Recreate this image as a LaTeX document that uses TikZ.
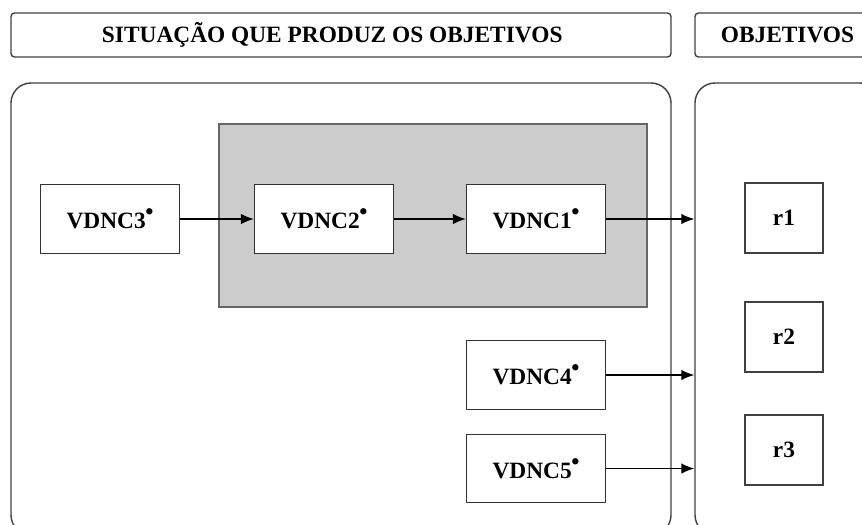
\documentclass[tikz,border=0pt]{standalone}
\usepackage{fontspec}
\setmainfont{Liberation Serif}
\usetikzlibrary{arrows.meta,positioning}

\newcommand{\vdnc}[1]{VDNC#1\kern-0.02em\raisebox{0.85ex}{\textbullet}}

\begin{document}
\begin{tikzpicture}[
  x=0.2mm,
  y=-0.2mm,
  font=\fontsize{13.3}{16}\selectfont\bfseries,
  >=Latex,
  header/.style={
    draw=black!75,
    line width=0.8pt,
    rounded corners=2pt,
    minimum height=0.88cm,
    inner sep=0pt
  },
  panel/.style={
    draw=black!75,
    line width=0.8pt,
    rounded corners=0.4cm,
    minimum height=9.04cm,
    inner sep=0pt
  },
  vdncbox/.style={
    draw=black!80,
    line width=0.7pt,
    fill=white,
    minimum width=2.78cm,
    minimum height=1.37cm,
    inner sep=0pt
  },
  result/.style={
    draw=black!75,
    line width=0.7pt,
    minimum width=1.56cm,
    minimum height=1.4cm,
    inner sep=0pt
  },
  flow/.style={
    -{Latex[length=2.6mm,width=2.1mm]},
    line width=0.8pt
  }
]
\useasboundingbox (0,0) rectangle (862,524);

%-----------------------------
% Headers
%-----------------------------
\node[header, minimum width=13.2cm] (headsit) at (341,35) {SITUAÇÃO QUE PRODUZ OS OBJETIVOS\hspace*{0.35cm}};
\node[header, minimum width=3.7cm]  (headobj) at (787.5,35) {OBJETIVOS};

%-----------------------------
% Panels
%-----------------------------
\node[panel, minimum width=13.2cm] (sitbox) at (341,309) {};
\node[panel, minimum width=3.7cm]  (objbox) at (787.5,309) {};

%-----------------------------
% Grey group
%-----------------------------
\node[draw=black!60, line width=1pt, fill=black!20,
      minimum width=8.56cm, minimum height=3.66cm] (grp) at (433,215.5) {};

%-----------------------------
% VDNC blocks
%-----------------------------
\node[vdncbox] (v3) at (110,219) {\vdnc{3}};
\node[vdncbox] (v2) at (324,219) {\vdnc{2}};
\node[vdncbox] (v1) at (536,219) {\vdnc{1}};
\node[vdncbox] (v4) at (536,375) {\vdnc{4}};
\node[vdncbox] (v5) at (536,468.5) {\vdnc{5}};

%-----------------------------
% Objectives
%-----------------------------
\node[result] (r1) at (784,218) {r1};
\node[result] (r2) at (784,337) {r2};
\node[result] (r3) at (784,450) {r3};

%-----------------------------
% Links
%-----------------------------
\draw[flow] (v3) -- (v2);
\draw[flow] (v2) -- (v1);
\draw[flow] (v1.east) -- (v1.east -| objbox.west);
\draw[flow] (v4.east) -- (v4.east -| objbox.west);
\draw[flow] (v5.east) -- (v5.east -| objbox.west);

\end{tikzpicture}
\end{document}
